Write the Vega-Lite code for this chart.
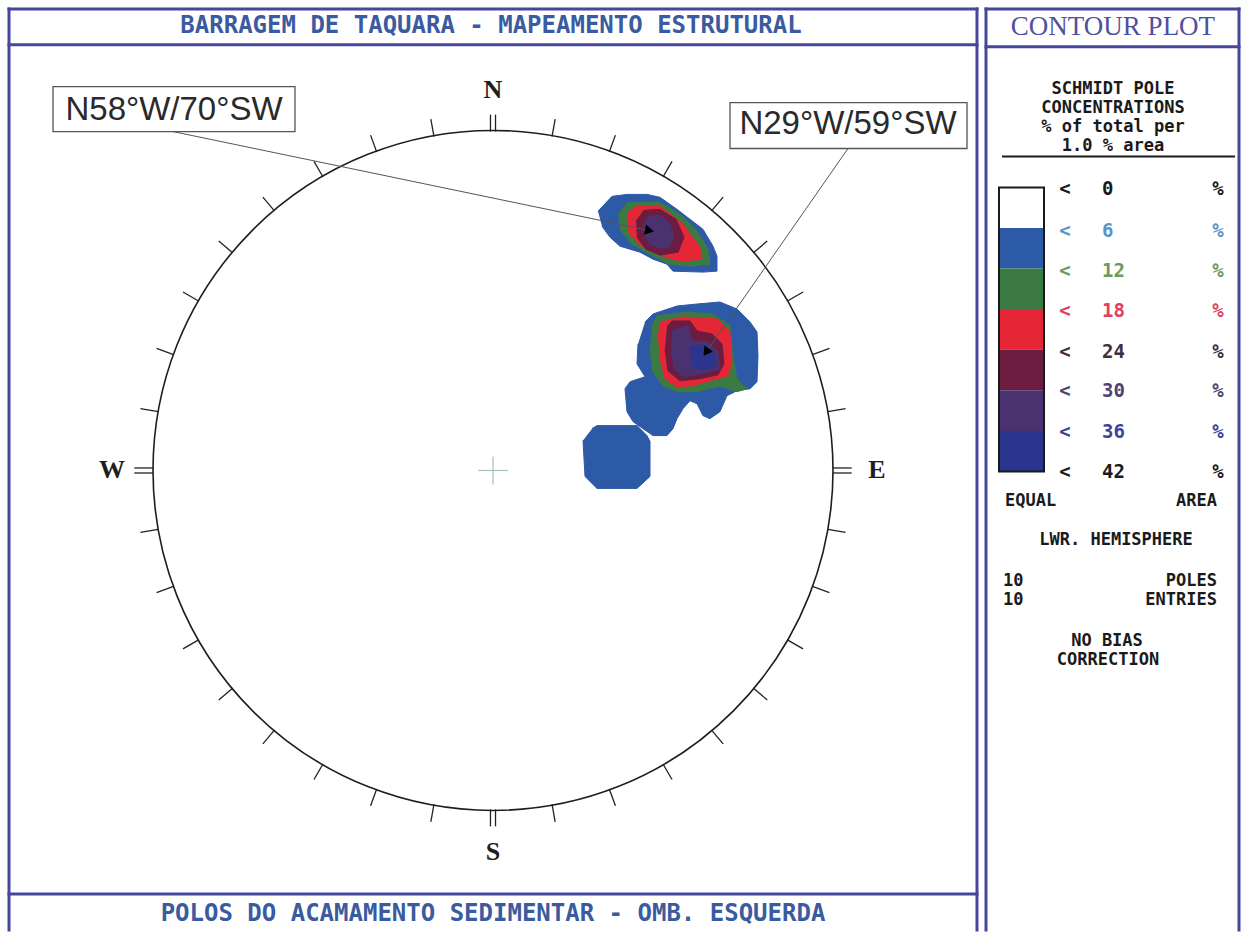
{
"$schema": "https://vega.github.io/schema/vega-lite/v6.json",
"autosize": {"type": "fit", "contains": "padding"},
"width": 1247, "height": 933, "padding": 0, "background": "white",
"config": {"view": {"stroke": null}},
"resolve": {"scale": {"color": "independent"}},
"datasets": {
"contours": [
{"g":"A","lv":6,"i":0,"x":0.3088,"y":0.7647},{"g":"A","lv":6,"i":1,"x":0.35,"y":0.8088},{"g":"A","lv":6,"i":2,"x":0.3941,"y":0.8147},{"g":"A","lv":6,"i":3,"x":0.4529,"y":0.8147},{"g":"A","lv":6,"i":4,"x":0.4912,"y":0.8059},{"g":"A","lv":6,"i":5,"x":0.5412,"y":0.7706},{"g":"A","lv":6,"i":6,"x":0.5794,"y":0.7412},{"g":"A","lv":6,"i":7,"x":0.6176,"y":0.7118},{"g":"A","lv":6,"i":8,"x":0.6471,"y":0.6618},{"g":"A","lv":6,"i":9,"x":0.6588,"y":0.6324},{"g":"A","lv":6,"i":10,"x":0.6588,"y":0.5882},{"g":"A","lv":6,"i":11,"x":0.6176,"y":0.5853},{"g":"A","lv":6,"i":12,"x":0.5294,"y":0.5882},{"g":"A","lv":6,"i":13,"x":0.5118,"y":0.6088},{"g":"A","lv":6,"i":14,"x":0.4706,"y":0.6235},{"g":"A","lv":6,"i":15,"x":0.4324,"y":0.6441},{"g":"A","lv":6,"i":16,"x":0.3735,"y":0.6618},{"g":"A","lv":6,"i":17,"x":0.3441,"y":0.6882},{"g":"A","lv":6,"i":18,"x":0.3206,"y":0.7206},
{"g":"A","lv":12,"i":0,"x":0.3676,"y":0.7559},{"g":"A","lv":12,"i":1,"x":0.3971,"y":0.7912},{"g":"A","lv":12,"i":2,"x":0.4912,"y":0.7912},{"g":"A","lv":12,"i":3,"x":0.55,"y":0.7559},{"g":"A","lv":12,"i":4,"x":0.6,"y":0.7059},{"g":"A","lv":12,"i":5,"x":0.6324,"y":0.6529},{"g":"A","lv":12,"i":6,"x":0.6382,"y":0.6088},{"g":"A","lv":12,"i":7,"x":0.5794,"y":0.6029},{"g":"A","lv":12,"i":8,"x":0.5206,"y":0.6088},{"g":"A","lv":12,"i":9,"x":0.4618,"y":0.6382},{"g":"A","lv":12,"i":10,"x":0.4088,"y":0.6676},{"g":"A","lv":12,"i":11,"x":0.3735,"y":0.7118},
{"g":"A","lv":18,"i":0,"x":0.3971,"y":0.7618},{"g":"A","lv":18,"i":1,"x":0.4265,"y":0.7824},{"g":"A","lv":18,"i":2,"x":0.4912,"y":0.7794},{"g":"A","lv":18,"i":3,"x":0.5588,"y":0.7265},{"g":"A","lv":18,"i":4,"x":0.6088,"y":0.6588},{"g":"A","lv":18,"i":5,"x":0.6147,"y":0.6235},{"g":"A","lv":18,"i":6,"x":0.55,"y":0.6176},{"g":"A","lv":18,"i":7,"x":0.4912,"y":0.6353},{"g":"A","lv":18,"i":8,"x":0.4324,"y":0.6647},{"g":"A","lv":18,"i":9,"x":0.3971,"y":0.7059},
{"g":"A","lv":24,"i":0,"x":0.4206,"y":0.7353},{"g":"A","lv":24,"i":1,"x":0.4441,"y":0.7676},{"g":"A","lv":24,"i":2,"x":0.4912,"y":0.7706},{"g":"A","lv":24,"i":3,"x":0.5382,"y":0.7412},{"g":"A","lv":24,"i":4,"x":0.5618,"y":0.6882},{"g":"A","lv":24,"i":5,"x":0.5441,"y":0.6441},{"g":"A","lv":24,"i":6,"x":0.4912,"y":0.6353},{"g":"A","lv":24,"i":7,"x":0.45,"y":0.6529},{"g":"A","lv":24,"i":8,"x":0.4235,"y":0.6882},
{"g":"A","lv":30,"i":0,"x":0.4412,"y":0.7235},{"g":"A","lv":30,"i":1,"x":0.4588,"y":0.75},{"g":"A","lv":30,"i":2,"x":0.4912,"y":0.7529},{"g":"A","lv":30,"i":3,"x":0.5206,"y":0.7294},{"g":"A","lv":30,"i":4,"x":0.5324,"y":0.6882},{"g":"A","lv":30,"i":5,"x":0.5176,"y":0.6588},{"g":"A","lv":30,"i":6,"x":0.4912,"y":0.6559},{"g":"A","lv":30,"i":7,"x":0.4618,"y":0.6676},{"g":"A","lv":30,"i":8,"x":0.4441,"y":0.6971},
{"g":"B","lv":6,"i":0,"x":0.4471,"y":0.4382},{"g":"B","lv":6,"i":1,"x":0.4706,"y":0.4618},{"g":"B","lv":6,"i":2,"x":0.5412,"y":0.4853},{"g":"B","lv":6,"i":3,"x":0.6,"y":0.4912},{"g":"B","lv":6,"i":4,"x":0.6676,"y":0.4971},{"g":"B","lv":6,"i":5,"x":0.7176,"y":0.4765},{"g":"B","lv":6,"i":6,"x":0.7559,"y":0.4382},{"g":"B","lv":6,"i":7,"x":0.7765,"y":0.4088},{"g":"B","lv":6,"i":8,"x":0.7794,"y":0.3382},{"g":"B","lv":6,"i":9,"x":0.7765,"y":0.2618},{"g":"B","lv":6,"i":10,"x":0.7559,"y":0.2412},{"g":"B","lv":6,"i":11,"x":0.7176,"y":0.2353},{"g":"B","lv":6,"i":12,"x":0.6882,"y":0.2206},{"g":"B","lv":6,"i":13,"x":0.6676,"y":0.1735},{"g":"B","lv":6,"i":14,"x":0.6382,"y":0.1529},{"g":"B","lv":6,"i":15,"x":0.6176,"y":0.1618},{"g":"B","lv":6,"i":16,"x":0.6,"y":0.1971},{"g":"B","lv":6,"i":17,"x":0.5794,"y":0.2059},{"g":"B","lv":6,"i":18,"x":0.5588,"y":0.1824},{"g":"B","lv":6,"i":19,"x":0.5412,"y":0.1529},{"g":"B","lv":6,"i":20,"x":0.5294,"y":0.1235},{"g":"B","lv":6,"i":21,"x":0.5118,"y":0.1029},{"g":"B","lv":6,"i":22,"x":0.4706,"y":0.1029},{"g":"B","lv":6,"i":23,"x":0.4412,"y":0.1235},{"g":"B","lv":6,"i":24,"x":0.4118,"y":0.1441},{"g":"B","lv":6,"i":25,"x":0.3941,"y":0.1735},{"g":"B","lv":6,"i":26,"x":0.3882,"y":0.2412},{"g":"B","lv":6,"i":27,"x":0.4029,"y":0.2618},{"g":"B","lv":6,"i":28,"x":0.4471,"y":0.2765},{"g":"B","lv":6,"i":29,"x":0.4235,"y":0.3147},{"g":"B","lv":6,"i":30,"x":0.4265,"y":0.3735},
{"g":"B","lv":12,"i":0,"x":0.4676,"y":0.4265},{"g":"B","lv":12,"i":1,"x":0.4824,"y":0.4559},{"g":"B","lv":12,"i":2,"x":0.5706,"y":0.4676},{"g":"B","lv":12,"i":3,"x":0.6471,"y":0.4618},{"g":"B","lv":12,"i":4,"x":0.6971,"y":0.4265},{"g":"B","lv":12,"i":5,"x":0.7059,"y":0.3382},{"g":"B","lv":12,"i":6,"x":0.7176,"y":0.2706},{"g":"B","lv":12,"i":7,"x":0.7471,"y":0.2412},{"g":"B","lv":12,"i":8,"x":0.7176,"y":0.2324},{"g":"B","lv":12,"i":9,"x":0.6676,"y":0.25},{"g":"B","lv":12,"i":10,"x":0.6,"y":0.2324},{"g":"B","lv":12,"i":11,"x":0.5412,"y":0.2324},{"g":"B","lv":12,"i":12,"x":0.5,"y":0.25},{"g":"B","lv":12,"i":13,"x":0.4706,"y":0.2912},{"g":"B","lv":12,"i":14,"x":0.4618,"y":0.3588},
{"g":"B","lv":18,"i":0,"x":0.4853,"y":0.3882},{"g":"B","lv":18,"i":1,"x":0.4912,"y":0.4382},{"g":"B","lv":18,"i":2,"x":0.5588,"y":0.4529},{"g":"B","lv":18,"i":3,"x":0.6588,"y":0.4471},{"g":"B","lv":18,"i":4,"x":0.6971,"y":0.4088},{"g":"B","lv":18,"i":5,"x":0.7029,"y":0.3206},{"g":"B","lv":18,"i":6,"x":0.6912,"y":0.2794},{"g":"B","lv":18,"i":7,"x":0.6382,"y":0.2647},{"g":"B","lv":18,"i":8,"x":0.5882,"y":0.25},{"g":"B","lv":18,"i":9,"x":0.5412,"y":0.2471},{"g":"B","lv":18,"i":10,"x":0.5059,"y":0.2706},{"g":"B","lv":18,"i":11,"x":0.4912,"y":0.3294},
{"g":"B","lv":24,"i":0,"x":0.5118,"y":0.4235},{"g":"B","lv":24,"i":1,"x":0.5265,"y":0.4412},{"g":"B","lv":24,"i":2,"x":0.5794,"y":0.4412},{"g":"B","lv":24,"i":3,"x":0.6,"y":0.4118},{"g":"B","lv":24,"i":4,"x":0.6441,"y":0.4029},{"g":"B","lv":24,"i":5,"x":0.6735,"y":0.3735},{"g":"B","lv":24,"i":6,"x":0.6794,"y":0.3147},{"g":"B","lv":24,"i":7,"x":0.6618,"y":0.2824},{"g":"B","lv":24,"i":8,"x":0.6088,"y":0.2706},{"g":"B","lv":24,"i":9,"x":0.55,"y":0.2647},{"g":"B","lv":24,"i":10,"x":0.5147,"y":0.2941},{"g":"B","lv":24,"i":11,"x":0.5059,"y":0.3588},
{"g":"B","lv":30,"i":0,"x":0.5265,"y":0.4118},{"g":"B","lv":30,"i":1,"x":0.5735,"y":0.4265},{"g":"B","lv":30,"i":2,"x":0.5853,"y":0.3824},{"g":"B","lv":30,"i":3,"x":0.6324,"y":0.3794},{"g":"B","lv":30,"i":4,"x":0.6618,"y":0.3529},{"g":"B","lv":30,"i":5,"x":0.6676,"y":0.3},{"g":"B","lv":30,"i":6,"x":0.6088,"y":0.2853},{"g":"B","lv":30,"i":7,"x":0.5618,"y":0.2765},{"g":"B","lv":30,"i":8,"x":0.5324,"y":0.3},{"g":"B","lv":30,"i":9,"x":0.5235,"y":0.3588},
{"g":"B","lv":36,"i":0,"x":0.5794,"y":0.3647},{"g":"B","lv":36,"i":1,"x":0.6235,"y":0.3706},{"g":"B","lv":36,"i":2,"x":0.65,"y":0.3412},{"g":"B","lv":36,"i":3,"x":0.6559,"y":0.3059},{"g":"B","lv":36,"i":4,"x":0.6088,"y":0.2971},{"g":"B","lv":36,"i":5,"x":0.5853,"y":0.3118},
{"g":"C","lv":6,"i":0,"x":0.2912,"y":0.1235},{"g":"C","lv":6,"i":1,"x":0.3059,"y":0.1324},{"g":"C","lv":6,"i":2,"x":0.4235,"y":0.1324},{"g":"C","lv":6,"i":3,"x":0.4529,"y":0.1029},{"g":"C","lv":6,"i":4,"x":0.4618,"y":0.0853},{"g":"C","lv":6,"i":5,"x":0.4618,"y":-0.0176},{"g":"C","lv":6,"i":6,"x":0.4235,"y":-0.0529},{"g":"C","lv":6,"i":7,"x":0.3059,"y":-0.0529},{"g":"C","lv":6,"i":8,"x":0.2706,"y":-0.0176},{"g":"C","lv":6,"i":9,"x":0.2647,"y":0.0882}
],
"ticks": [
{"x":0.1736,"y":0.9848,"x2":0.1828,"y2":1.037},{"x":0.342,"y":0.9397,"x2":0.3601,"y2":0.9895},{"x":0.5,"y":0.866,"x2":0.5265,"y2":0.9119},{"x":0.6428,"y":0.766,"x2":0.6769,"y2":0.8066},{"x":0.766,"y":0.6428,"x2":0.8066,"y2":0.6769},{"x":0.866,"y":0.5,"x2":0.9119,"y2":0.5265},{"x":0.9397,"y":0.342,"x2":0.9895,"y2":0.3601},{"x":0.9848,"y":0.1736,"x2":1.037,"y2":0.1828},
{"x":0.9848,"y":-0.1736,"x2":1.037,"y2":-0.1828},{"x":0.9397,"y":-0.342,"x2":0.9895,"y2":-0.3601},{"x":0.866,"y":-0.5,"x2":0.9119,"y2":-0.5265},{"x":0.766,"y":-0.6428,"x2":0.8066,"y2":-0.6769},{"x":0.6428,"y":-0.766,"x2":0.6769,"y2":-0.8066},{"x":0.5,"y":-0.866,"x2":0.5265,"y2":-0.9119},{"x":0.342,"y":-0.9397,"x2":0.3601,"y2":-0.9895},{"x":0.1736,"y":-0.9848,"x2":0.1828,"y2":-1.037},
{"x":-0.1736,"y":-0.9848,"x2":-0.1828,"y2":-1.037},{"x":-0.342,"y":-0.9397,"x2":-0.3601,"y2":-0.9895},{"x":-0.5,"y":-0.866,"x2":-0.5265,"y2":-0.9119},{"x":-0.6428,"y":-0.766,"x2":-0.6769,"y2":-0.8066},{"x":-0.766,"y":-0.6428,"x2":-0.8066,"y2":-0.6769},{"x":-0.866,"y":-0.5,"x2":-0.9119,"y2":-0.5265},{"x":-0.9397,"y":-0.342,"x2":-0.9895,"y2":-0.3601},{"x":-0.9848,"y":-0.1736,"x2":-1.037,"y2":-0.1828},
{"x":-0.9848,"y":0.1736,"x2":-1.037,"y2":0.1828},{"x":-0.9397,"y":0.342,"x2":-0.9895,"y2":0.3601},{"x":-0.866,"y":0.5,"x2":-0.9119,"y2":0.5265},{"x":-0.766,"y":0.6428,"x2":-0.8066,"y2":0.6769},{"x":-0.6428,"y":0.766,"x2":-0.6769,"y2":0.8066},{"x":-0.5,"y":0.866,"x2":-0.5265,"y2":0.9119},{"x":-0.342,"y":0.9397,"x2":-0.3601,"y2":0.9895},{"x":-0.1736,"y":0.9848,"x2":-0.1828,"y2":1.037},
{"x":-0.0074,"y":1,"x2":-0.0074,"y2":1.05},{"x":0.0074,"y":1,"x2":0.0074,"y2":1.05},{"x":-0.0074,"y":-1,"x2":-0.0074,"y2":-1.05},{"x":0.0074,"y":-1,"x2":0.0074,"y2":-1.05},
{"x":1,"y":0.0074,"x2":1.055,"y2":0.0074},{"x":1,"y":-0.0074,"x2":1.055,"y2":-0.0074},{"x":-1,"y":0.0074,"x2":-1.055,"y2":0.0074},{"x":-1,"y":-0.0074,"x2":-1.055,"y2":-0.0074}
],
"bands": [
{"lo":0,"x":1.4882,"x2":1.6206,"y":0.8353,"y2":0.7157},{"lo":6,"x":1.4882,"x2":1.6206,"y":0.7157,"y2":0.5959},{"lo":12,"x":1.4882,"x2":1.6206,"y":0.5959,"y2":0.4762},{"lo":18,"x":1.4882,"x2":1.6206,"y":0.4762,"y2":0.3562},{"lo":24,"x":1.4882,"x2":1.6206,"y":0.3562,"y2":0.2365},{"lo":30,"x":1.4882,"x2":1.6206,"y":0.2365,"y2":0.1168},{"lo":36,"x":1.4882,"x2":1.6206,"y":0.1168,"y2":-0.0029}
],
"labels": [
{"v":"0","y":0.8294,"xa":1.6824,"xb":1.7912,"xc":2.1324},{"v":"6","y":0.7059,"xa":1.6824,"xb":1.7912,"xc":2.1324},{"v":"12","y":0.5882,"xa":1.6824,"xb":1.7912,"xc":2.1324},{"v":"18","y":0.4706,"xa":1.6824,"xb":1.7912,"xc":2.1324},{"v":"24","y":0.35,"xa":1.6824,"xb":1.7912,"xc":2.1324},{"v":"30","y":0.2353,"xa":1.6824,"xb":1.7912,"xc":2.1324},{"v":"36","y":0.1147,"xa":1.6824,"xb":1.7912,"xc":2.1324},{"v":"42","y":-0.0059,"xa":1.6824,"xb":1.7912,"xc":2.1324}
]
},
"encoding": {
"x": {"field": "x", "type": "quantitative", "scale": {"domain": [-1.45, 2.21765], "nice": false, "zero": false}, "axis": null},
"y": {"field": "y", "type": "quantitative", "scale": {"domain": [-1.355882, 1.388235], "nice": false, "zero": false}, "axis": null}
},
"layer": [
{"data": {"values": [
 {"x":-1.4235,"x2":-1.4235,"y":1.3618,"y2":-1.355882},{"x":1.4235,"x2":1.4235,"y":1.3618,"y2":-1.355882},
 {"x":1.45,"x2":1.45,"y":1.3618,"y2":-1.355882},{"x":2.1941,"x2":2.1941,"y":1.3618,"y2":-1.355882},
 {"x":-1.4235,"x2":1.4235,"y":1.3618,"y2":1.3618},{"x":1.45,"x2":2.1941,"y":1.3618,"y2":1.3618},
 {"x":-1.4235,"x2":1.4235,"y":1.2559,"y2":1.2559},{"x":-1.4235,"x2":1.4235,"y":-1.25,"y2":-1.25},{"x":1.45,"x2":2.1941,"y":1.25,"y2":1.25}]},
 "mark": {"type": "rule", "stroke": "#46469c", "strokeWidth": 3, "strokeCap": "square"},
 "encoding": {"x2": {"field": "x2"}, "y2": {"field": "y2"}}},
{"data": {"name": "contours"}, "transform": [{"filter": "datum.lv == 6"}],
 "mark": {"type": "line", "fill": "#2d5aa6", "stroke": "#2d5aa6", "strokeWidth": 1},
 "encoding": {"detail": {"field": "g"}, "order": {"field": "i", "type": "quantitative"}}},
{"data": {"name": "contours"}, "transform": [{"filter": "datum.lv == 12"}],
 "mark": {"type": "line", "fill": "#3c7a44", "stroke": "#3c7a44", "strokeWidth": 1},
 "encoding": {"detail": {"field": "g"}, "order": {"field": "i", "type": "quantitative"}}},
{"data": {"name": "contours"}, "transform": [{"filter": "datum.lv == 18"}],
 "mark": {"type": "line", "fill": "#e42636", "stroke": "#e42636", "strokeWidth": 1},
 "encoding": {"detail": {"field": "g"}, "order": {"field": "i", "type": "quantitative"}}},
{"data": {"name": "contours"}, "transform": [{"filter": "datum.lv == 24"}],
 "mark": {"type": "line", "fill": "#6c1c40", "stroke": "#6c1c40", "strokeWidth": 1},
 "encoding": {"detail": {"field": "g"}, "order": {"field": "i", "type": "quantitative"}}},
{"data": {"name": "contours"}, "transform": [{"filter": "datum.lv == 30"}],
 "mark": {"type": "line", "fill": "#4a3270", "stroke": "#4a3270", "strokeWidth": 1},
 "encoding": {"detail": {"field": "g"}, "order": {"field": "i", "type": "quantitative"}}},
{"data": {"name": "contours"}, "transform": [{"filter": "datum.lv == 36"}],
 "mark": {"type": "line", "fill": "#2a3590", "stroke": "#2a3590", "strokeWidth": 1},
 "encoding": {"detail": {"field": "g"}, "order": {"field": "i", "type": "quantitative"}}},
{"data": {"values": [{"x":0,"y":0}]},
 "mark": {"type": "point", "shape": "circle", "size": 462400, "filled": false, "stroke": "#1e1e1e", "strokeWidth": 1.6, "opacity": 1}},
{"data": {"name": "ticks"},
 "mark": {"type": "rule", "stroke": "#222222", "strokeWidth": 1.3},
 "encoding": {"x2": {"field": "x2"}, "y2": {"field": "y2"}}},
{"data": {"values": [{"x":-0.044,"y":0,"x2":0.044,"y2":0},{"x":0,"y":-0.041,"x2":0,"y2":0.041}]},
 "mark": {"type": "rule", "stroke": "#a6c2b8", "strokeWidth": 1.2},
 "encoding": {"x2": {"field": "x2"}, "y2": {"field": "y2"}}},
{"data": {"values": [{"x":-0.9412,"y":1.0,"x2":0.4559,"y2":0.7088},{"x":1.0441,"y":0.95,"x2":0.6294,"y2":0.3529}]},
 "mark": {"type": "rule", "stroke": "#555555", "strokeWidth": 1},
 "encoding": {"x2": {"field": "x2"}, "y2": {"field": "y2"}}},
{"data": {"values": [{"x":0.4559,"y":0.7088,"a":101.8},{"x":0.6294,"y":0.3529,"a":214.8}]},
 "mark": {"type": "point", "shape": "triangle", "filled": true, "color": "#000000", "size": 110, "opacity": 1},
 "encoding": {"angle": {"field": "a", "type": "quantitative", "scale": null}}},
{"data": {"values": [{"x":-1.2941,"x2":-0.5824,"y":1.1324,"y2":1.0},{"x":0.6971,"x2":1.3941,"y":1.0853,"y2":0.95}]},
 "mark": {"type": "rect", "fill": "white", "stroke": "#555555", "strokeWidth": 1.3},
 "encoding": {"x2": {"field": "x2"}, "y2": {"field": "y2"}}},
{"data": {"values": [{"t":"N58°W/70°SW","x":-0.9382,"y":1.0647},{"t":"N29°W/59°SW","x":1.0441,"y":1.0235}]},
 "mark": {"type": "text", "font": "Liberation Sans", "fontSize": 33, "color": "#2a2a2a", "align": "center", "baseline": "middle"},
 "encoding": {"text": {"field": "t"}}},
{"data": {"values": [{"t":"N","x":0,"y":1.1235},{"t":"S","x":0,"y":-1.1265},{"t":"W","x":-1.1206,"y":0},{"t":"E","x":1.1294,"y":0}]},
 "mark": {"type": "text", "font": "Liberation Serif", "fontSize": 26, "fontWeight": "bold", "color": "#1e1e1e", "align": "center", "baseline": "middle"},
 "encoding": {"text": {"field": "t"}}},
{"data": {"values": [{"t":"BARRAGEM DE TAQUARA - MAPEAMENTO ESTRUTURAL","x":-0.0059,"y":1.3118},{"t":"POLOS DO ACAMAMENTO SEDIMENTAR - OMB. ESQUERDA","x":0,"y":-1.3088}]},
 "mark": {"type": "text", "font": "DejaVu Sans Mono", "fontSize": 24, "fontWeight": "bold", "color": "#3b5ba0", "align": "center", "baseline": "middle"},
 "encoding": {"text": {"field": "t"}}},
{"data": {"values": [{"t":"CONTOUR PLOT","x":1.8235,"y":1.3088}]},
 "mark": {"type": "text", "font": "Liberation Serif", "fontSize": 27, "color": "#5050a0", "align": "center", "baseline": "middle"},
 "encoding": {"text": {"field": "t"}}},
{"data": {"values": [{"t":"SCHMIDT POLE","x":1.8235,"y":1.1265},{"t":"CONCENTRATIONS","x":1.8235,"y":1.0706},{"t":"% of total per","x":1.8235,"y":1.0147},{"t":"1.0 % area","x":1.8235,"y":0.9588},{"t":"LWR. HEMISPHERE","x":1.8324,"y":-0.2059},{"t":"NO BIAS","x":1.8059,"y":-0.5029},{"t":"CORRECTION","x":1.8088,"y":-0.5588}]},
 "mark": {"type": "text", "font": "DejaVu Sans Mono", "fontSize": 17, "fontWeight": "bold", "color": "#1a1a1a", "align": "center", "baseline": "middle"},
 "encoding": {"text": {"field": "t"}}},
{"data": {"values": [{"t":"EQUAL","x":1.5059,"y":-0.0912},{"t":"10","x":1.5,"y":-0.3265},{"t":"10","x":1.5,"y":-0.3824}]},
 "mark": {"type": "text", "font": "DejaVu Sans Mono", "fontSize": 17, "fontWeight": "bold", "color": "#1a1a1a", "align": "left", "baseline": "middle"},
 "encoding": {"text": {"field": "t"}}},
{"data": {"values": [{"t":"AREA","x":2.1294,"y":-0.0912},{"t":"POLES","x":2.1294,"y":-0.3265},{"t":"ENTRIES","x":2.1294,"y":-0.3824}]},
 "mark": {"type": "text", "font": "DejaVu Sans Mono", "fontSize": 17, "fontWeight": "bold", "color": "#1a1a1a", "align": "right", "baseline": "middle"},
 "encoding": {"text": {"field": "t"}}},
{"data": {"values": [{"x":1.4971,"x2":2.1824,"y":0.9265,"y2":0.9265}]},
 "mark": {"type": "rule", "stroke": "#1a1a1a", "strokeWidth": 2},
 "encoding": {"x2": {"field": "x2"}, "y2": {"field": "y2"}}},
{"data": {"name": "bands"},
 "mark": {"type": "rect"},
 "encoding": {"x2": {"field": "x2"}, "y2": {"field": "y2"},
  "color": {"field": "lo", "type": "ordinal", "scale": {"domain": [0,6,12,18,24,30,36], "range": ["#ffffff","#2d5aa6","#3c7a44","#e42636","#6c1c40","#4a3270","#2a3590"]}, "legend": null}}},
{"data": {"values": [{"x":1.4882,"x2":1.6206,"y":0.8353,"y2":-0.0029}]},
 "mark": {"type": "rect", "fill": null, "stroke": "#1a1a1a", "strokeWidth": 2},
 "encoding": {"x2": {"field": "x2"}, "y2": {"field": "y2"}}},
{"data": {"name": "labels"},
 "mark": {"type": "text", "font": "DejaVu Sans Mono", "fontSize": 19, "fontWeight": "bold", "align": "center", "baseline": "middle"},
 "encoding": {"x": {"field": "xa"}, "text": {"value": "<"},
  "color": {"field": "v", "type": "nominal", "scale": {"domain": ["0","6","12","18","24","30","36","42"], "range": ["#1a1a1a","#5b92c9","#6b9a5c","#e0405e","#3e3040","#4e4272","#3c4496","#1a1a1a"]}, "legend": null}}},
{"data": {"name": "labels"},
 "mark": {"type": "text", "font": "DejaVu Sans Mono", "fontSize": 19, "fontWeight": "bold", "align": "left", "baseline": "middle"},
 "encoding": {"x": {"field": "xb"}, "text": {"field": "v", "type": "nominal"},
  "color": {"field": "v", "type": "nominal", "scale": {"domain": ["0","6","12","18","24","30","36","42"], "range": ["#1a1a1a","#5b92c9","#6b9a5c","#e0405e","#3e3040","#4e4272","#3c4496","#1a1a1a"]}, "legend": null}}},
{"data": {"name": "labels"},
 "mark": {"type": "text", "font": "DejaVu Sans Mono", "fontSize": 19, "fontWeight": "bold", "align": "center", "baseline": "middle"},
 "encoding": {"x": {"field": "xc"}, "text": {"value": "%"},
  "color": {"field": "v", "type": "nominal", "scale": {"domain": ["0","6","12","18","24","30","36","42"], "range": ["#1a1a1a","#5b92c9","#6b9a5c","#e0405e","#3e3040","#4e4272","#3c4496","#1a1a1a"]}, "legend": null}}}
]
}
